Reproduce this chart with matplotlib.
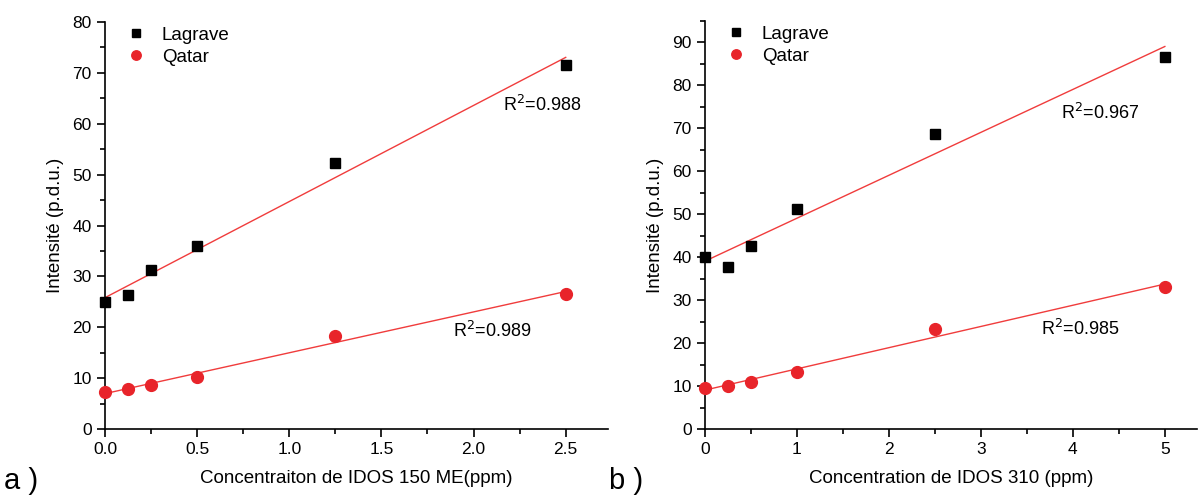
import matplotlib.pyplot as plt
import numpy as np
from matplotlib.ticker import MultipleLocator

plt.rcParams["font.family"] = ["Liberation Sans", "DejaVu Sans"]

# panel a) IDOS 150 ME
conc_a = [0.0, 0.125, 0.25, 0.5, 1.25, 2.5]
lagrave_a = [25.0, 26.3, 31.2, 36.0, 52.3, 71.5]
qatar_a = [7.2, 7.9, 8.7, 10.3, 18.2, 26.6]
r2_a = ["0.988", "0.989"]

# panel b) IDOS 310
conc_b = [0.0, 0.25, 0.5, 1.0, 2.5, 5.0]
lagrave_b = [40.0, 37.7, 42.6, 51.3, 68.8, 86.6]
qatar_b = [9.6, 10.1, 10.9, 13.2, 23.2, 33.1]
r2_b = ["0.967", "0.985"]

RED = "#e8242a"
LINE = "#f03c3c"

fig = plt.figure(figsize=(11.98, 4.96), dpi=100)
ax_a = fig.add_axes([0.0876, 0.135, 0.42, 0.8206])
ax_b = fig.add_axes([0.5885, 0.135, 0.4107, 0.8227])


def draw(ax, x, lag, qat, r2, xlim, ylim, xmajor, ymajor, xlabel, r2pos):
    x = np.asarray(x)
    for y in (lag, qat):
        k, b = np.polyfit(x, y, 1)
        ax.plot([x.min(), x.max()], [b, b + k * x.max()], color=LINE, lw=1, zorder=2)
    ax.plot(x, lag, "s", color="black", ms=7, label="Lagrave", clip_on=False, zorder=3)
    ax.plot(x, qat, "o", color=RED, ms=8.5, label="Qatar", clip_on=False, zorder=3)
    for (tx, ty), txt in zip(r2pos, r2):
        ax.text(tx, ty, r"R$^{\mathsf{2}}$=" + txt, fontsize=13, ha="center", va="center")
    ax.set_xlim(*xlim)
    ax.set_ylim(*ylim)
    ax.xaxis.set_major_locator(MultipleLocator(xmajor))
    ax.xaxis.set_minor_locator(MultipleLocator(xmajor / 2))
    ax.yaxis.set_major_locator(MultipleLocator(ymajor))
    ax.yaxis.set_minor_locator(MultipleLocator(ymajor / 2))
    for s in ("top", "right"):
        ax.spines[s].set_visible(False)
    for s in ("left", "bottom"):
        ax.spines[s].set_linewidth(1.2)
    ax.tick_params(which="major", direction="out", length=6, width=1.2, labelsize=12.5)
    ax.tick_params(which="minor", direction="out", length=3.5, width=1.2)
    ax.set_xlabel(xlabel, fontsize=13.5, labelpad=9)
    ax.set_ylabel("Intensité (p.d.u.)", fontsize=13.5, labelpad=6)
    ax.legend(loc="upper left", bbox_to_anchor=(0.005, 1.03), frameon=False, fontsize=13.5,
              handletextpad=0.8, labelspacing=0.25, handlelength=1.2, markerscale=0.8)


draw(ax_a, conc_a, lagrave_a, qatar_a, r2_a, (0, 2.73), (0, 80), 0.5, 10,
     "Concentraiton de IDOS 150 ME(ppm)", [(2.37, 63.7), (2.1, 19.3)])
draw(ax_b, conc_b, lagrave_b, qatar_b, r2_b, (0, 5.35), (0, 95), 1, 10,
     "Concentration de IDOS 310 (ppm)", [(4.3, 73.5), (4.08, 23.2)])
ax_a.xaxis.set_major_formatter(lambda v, p: f"{v:.1f}")

fig.text(0.003, 0.03, "a )", fontsize=21, ha="left", va="center")
fig.text(0.508, 0.03, "b )", fontsize=21, ha="left", va="center")

fig.savefig("out.png", dpi=100)
